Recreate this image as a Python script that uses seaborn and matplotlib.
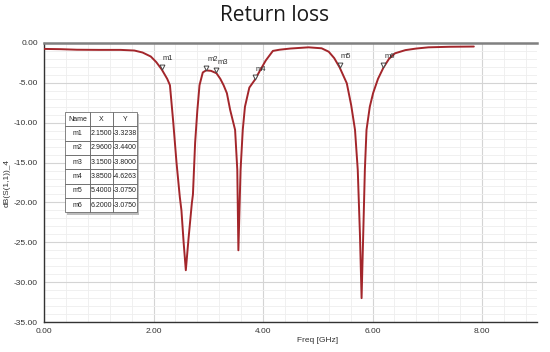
import matplotlib
matplotlib.use("Agg")
import matplotlib.pyplot as plt
import seaborn as sns
import pandas as pd
from matplotlib.ticker import MultipleLocator, FormatStrFormatter

sns.set_style("white")
plt.rcParams['font.family'] = ['Liberation Sans Narrow', 'Liberation Sans', 'DejaVu Sans']

# ---- data ----
freq = [0.0, 0.3, 0.6, 1.0, 1.4, 1.65, 1.8, 1.95, 2.05, 2.15, 2.25, 2.30, 2.36,
        2.42, 2.48, 2.51, 2.55, 2.59, 2.64, 2.70, 2.72, 2.76, 2.80, 2.84, 2.90,
        2.96, 3.05, 3.15, 3.22, 3.28, 3.34, 3.40, 3.49, 3.53, 3.55, 3.59, 3.63,
        3.67, 3.75, 3.85, 3.95, 4.05, 4.18, 4.30, 4.50, 4.83, 5.07, 5.20, 5.30,
        5.40, 5.53, 5.61, 5.68, 5.73, 5.77, 5.80, 5.83, 5.86, 5.89, 5.95, 6.01,
        6.10, 6.20, 6.30, 6.41, 6.60, 6.80, 7.02, 7.40, 7.85]
s11 = [-0.75, -0.78, -0.85, -0.87, -0.87, -0.95, -1.2, -1.7, -2.4, -3.32, -4.5,
       -5.3, -9.9, -15.0, -19.3, -21.0, -25.0, -28.5, -24.5, -20.1, -19.0, -12.5,
       -8.5, -5.3, -3.7, -3.44, -3.5, -3.80, -4.5, -5.3, -6.3, -8.4, -10.9, -15.9,
       -26.0, -15.9, -10.9, -8.0, -5.6, -4.63, -3.4, -2.2, -1.0, -0.85, -0.7,
       -0.55, -0.67, -1.1, -1.9, -3.08, -5.06, -7.8, -10.9, -15.9, -24.0, -32.0,
       -24.0, -15.9, -10.9, -8.0, -6.3, -4.5, -3.08, -2.0, -1.3, -0.9, -0.7,
       -0.55, -0.48, -0.45]

marker_names = ["m1", "m2", "m3", "m4", "m5", "m6"]
marker_x = [2.15, 2.96, 3.15, 3.85, 5.40, 6.20]
marker_y = [-3.3238, -3.4400, -3.8000, -4.6263, -3.0750, -3.0750]

x_ticks = [0, 2, 4, 6, 8]
y_ticks = [0, -5, -10, -15, -20, -25, -30, -35]

df = pd.DataFrame({"Freq": freq, "dB": s11})

fig = plt.figure(figsize=(5.5, 3.52), dpi=100)
ax = fig.add_axes([0.08, 0.085, 0.896, 0.793])

sns.lineplot(data=df, x="Freq", y="dB", ax=ax, color="#a3262b", linewidth=1.4,
             zorder=3)

# markers
ax.plot(marker_x, [y + 0.35 for y in marker_y], linestyle="none", marker="v",
        markersize=3.5, markerfacecolor="white", markeredgecolor="#444444",
        markeredgewidth=0.7, zorder=4)
for n, xv, yv in zip(marker_names, marker_x, marker_y):
    ax.text(xv + 0.02, yv + 0.9, n, fontsize=5.5, color="#333333",
            ha="left", va="bottom", zorder=5)

ax.set_xlim(0, 9)
ax.set_ylim(-35, 0)
ax.xaxis.set_major_locator(MultipleLocator(2))
ax.xaxis.set_minor_locator(MultipleLocator(0.4))
ax.yaxis.set_major_locator(MultipleLocator(5))
ax.yaxis.set_minor_locator(MultipleLocator(1))
ax.set_xticks(x_ticks)
ax.set_yticks(y_ticks)
ax.xaxis.set_major_formatter(FormatStrFormatter("%.2f"))
ax.yaxis.set_major_formatter(FormatStrFormatter("%.2f"))

ax.grid(which="major", color="#d4d4d4", linewidth=0.8, zorder=0)
ax.grid(which="minor", color="#eeeeee", linewidth=0.6, zorder=0)
ax.set_axisbelow(True)

ax.tick_params(axis="both", which="major", labelsize=6, colors="#333333",
               direction="inout", length=5, width=0.8, pad=2)
ax.tick_params(axis="both", which="minor", direction="in", length=3,
               width=0.6, color="#333333")

for side in ["left", "bottom"]:
    ax.spines[side].set_color("#333333")
    ax.spines[side].set_linewidth(1.0)
ax.spines["top"].set_color("#808080")
ax.spines["top"].set_linewidth(1.8)
ax.spines["right"].set_visible(False)

ax.set_xlabel("Freq [GHz]", fontsize=6, color="#333333")
ax.xaxis.set_label_coords(0.555, -0.055)
ax.set_ylabel("dB(S(1,1))_4", fontsize=6, color="#333333")
ax.yaxis.set_label_coords(-0.068, 0.5)

fig.suptitle("Return loss", fontsize=15, y=0.985, color="#1a1a1a",
             family=["Open Sans", "DejaVu Sans"])

# marker table
cell_text = [[n, f"{xv:.4f}", f"{yv:.4f}"] for n, xv, yv in
             zip(marker_names, marker_x, marker_y)]
# shadow
ax.add_patch(plt.Rectangle((0.047, 0.385), 0.146, 0.36,
                           transform=ax.transAxes, facecolor="#bdbdbd",
                           edgecolor="none", zorder=5))
tbl = ax.table(cellText=cell_text, colLabels=["Name", "X", "Y"],
               cellLoc="center", bbox=[0.043, 0.393, 0.146, 0.36],
               colWidths=[0.35, 0.31, 0.34], zorder=6)
tbl.auto_set_font_size(False)
tbl.set_fontsize(5)
for (r, c), cell in tbl.get_celld().items():
    cell.set_edgecolor("#555555")
    cell.set_linewidth(0.5)
    cell.set_facecolor("white")
    cell.get_text().set_color("#222222")
    cell.set_zorder(6)

fig.savefig("out.png", dpi=100)
